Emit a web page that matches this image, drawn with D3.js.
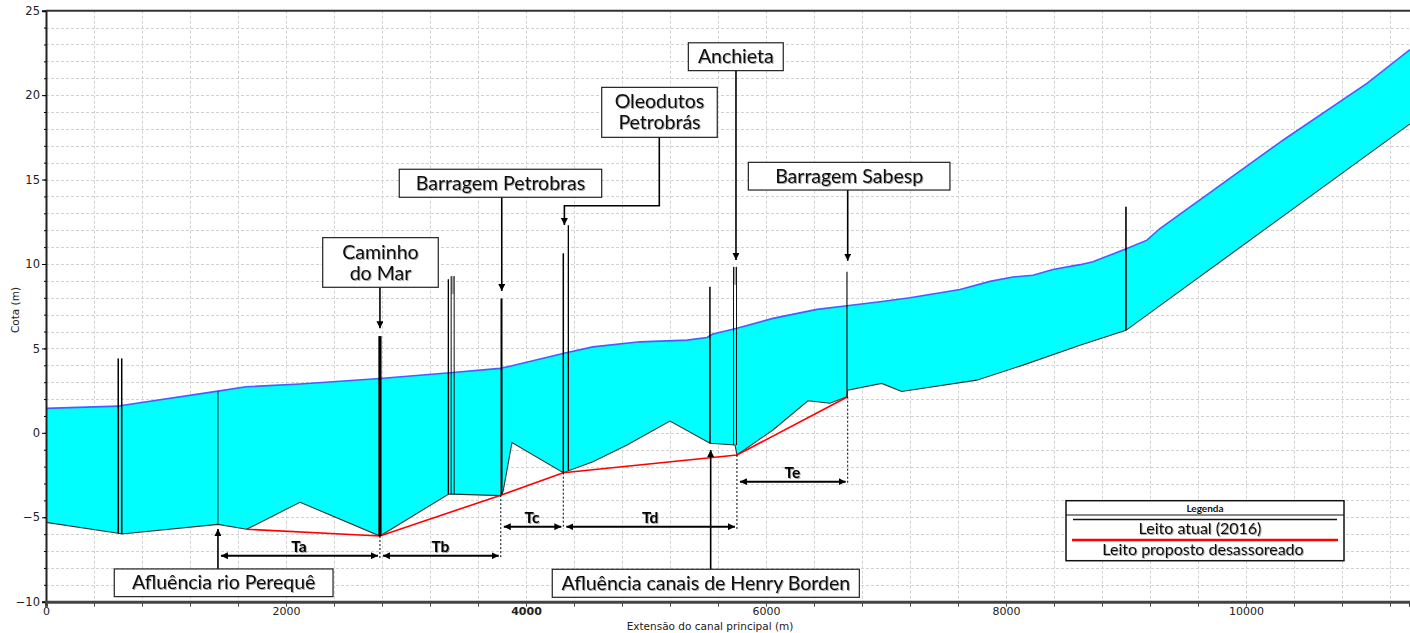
<!DOCTYPE html>
<html>
<head>
<meta charset="utf-8">
<script src="https://cdn.jsdelivr.net/npm/d3@7"></script>
<style>
  html, body { margin: 0; padding: 0; background: #fff; }
  svg { display: block; }
</style>
</head>
<body>
<svg id="chart" width="1410" height="633"></svg>
<script>
// Perfil longitudinal do canal principal: nível d'água, leito atual e leito proposto

// Nível d'água (linha azul)
const waterDist = [0, 602, 631, 1433, 1667, 2117, 2783, 3367, 3783, 3883, 4308, 4558, 4950, 5342, 5508, 5558, 5758, 6058, 6425, 6675, 6950, 7200, 7617, 7867, 8058, 8225, 8392, 8617, 8725, 9008, 9175, 9283, 10308, 11008, 11367];
const waterLevel = [1.45, 1.58, 1.62, 2.47, 2.73, 2.89, 3.22, 3.56, 3.82, 3.97, 4.70, 5.09, 5.39, 5.49, 5.65, 5.85, 6.19, 6.78, 7.31, 7.53, 7.76, 8.00, 8.49, 8.97, 9.23, 9.33, 9.67, 9.96, 10.13, 10.92, 11.41, 12.10, 17.33, 20.69, 22.70];

// Leito atual (2016)
const bedDist = [0, 602, 631, 1433, 1672, 2117, 2783, 3353, 3389, 3790, 3810, 3883, 4311, 4558, 4842, 5200, 5533, 5742, 5758, 6058, 6350, 6533, 6675, 6681, 6964, 7131, 7756, 8142, 8617, 9000, 11367];
const bedLevel = [-5.30, -5.95, -5.99, -5.42, -5.71, -4.11, -6.11, -3.64, -3.63, -3.72, -3.45, -0.58, -2.36, -1.71, -0.72, 0.70, -0.62, -0.72, -1.31, 0.17, 1.90, 1.75, 2.14, 2.53, 2.93, 2.45, 3.12, 4.01, 5.19, 6.07, 18.30];

// Leito proposto desassoreado
const proposedDist = [1672, 2783, 3790, 4311, 5758, 6681];
const proposedLevel = [-5.71, -6.11, -3.69, -2.36, -1.31, 2.14];

// Estruturas transversais (pontes, barragens, dutos)
const structDist = [602, 631, 1433, 2783, 3353, 3389, 3796, 4311, 4353, 5533, 5742, 6675, 9000];
const structTop = [4.41, 4.41, 2.47, 5.73, 9.09, 9.28, 7.96, 10.63, 12.29, 8.65, 9.83, 9.54, 13.39];

// Trechos de desassoreamento
const reachLabels = ["Ta", "Tb", "Tc", "Td", "Te"];
const reachStart = [1433, 2783, 3790, 4311, 5758];
const reachEnd = [2783, 3790, 4311, 5758, 6681];

// Eixos
const yTicks = [-10, -5, 0, 5, 10, 15, 20, 25];
const xLabelTicks = [0, 2000, 4000, 6000, 8000, 10000];

// ---------------------------------------------------------------
const svg = d3.select("#chart");
const W = 1410, H = 633;
const plotLeft = 46, plotTop = 10.7, plotBottom = 601.7;

const x = d3.scaleLinear().domain([0, 11367]).range([plotLeft, W]);
const y = d3.scaleLinear().domain([-10, 25]).range([plotBottom, plotTop]);

const bedAt = d3.scaleLinear().domain(bedDist).range(bedLevel);
const proposedAt = d3.scaleLinear().domain(proposedDist).range(proposedLevel);

const defs = svg.append("defs");
defs.append("clipPath").attr("id", "plotclip")
  .append("rect").attr("x", plotLeft).attr("y", plotTop).attr("width", W - plotLeft).attr("height", plotBottom - plotTop);
defs.append("marker")
  .attr("id", "arrow").attr("viewBox", "0 0 10 10").attr("refX", 10).attr("refY", 5)
  .attr("markerWidth", 7).attr("markerHeight", 7).attr("markerUnits", "userSpaceOnUse")
  .attr("orient", "auto-start-reverse")
  .append("path").attr("d", "M0,0 L10,5 L0,10 Z").attr("fill", "#000");
const shadow = defs.append("filter").attr("id", "tshadow")
  .attr("x", "-10%").attr("y", "-30%").attr("width", "130%").attr("height", "160%");
shadow.append("feDropShadow").attr("dx", 1).attr("dy", 1).attr("stdDeviation", 0.7)
  .attr("flood-color", "#000").attr("flood-opacity", 0.35);

// Grade
const grid = svg.append("g").attr("stroke", "#d2d2d2").attr("stroke-width", 1).attr("stroke-dasharray", "3,2");
grid.selectAll("line.v").data(d3.range(400, 11367, 400)).join("line").attr("class", "v")
  .attr("x1", d => Math.round(x(d)) + 0.5).attr("x2", d => Math.round(x(d)) + 0.5)
  .attr("y1", plotTop).attr("y2", plotBottom);
grid.selectAll("line.h").data(d3.range(-9, 25, 1)).join("line").attr("class", "h")
  .attr("x1", plotLeft).attr("x2", W)
  .attr("y1", d => Math.round(y(d)) + 0.5).attr("y2", d => Math.round(y(d)) + 0.5);

const plot = svg.append("g").attr("clip-path", "url(#plotclip)");

// Área molhada
const waterPts = waterDist.map((d, i) => [d, waterLevel[i]]);
const bedPts = bedDist.map((d, i) => [d, bedLevel[i]]);
const line = d3.line().x(d => x(d[0])).y(d => y(d[1]));
plot.append("path")
  .attr("d", line(waterPts.concat(bedPts.slice().reverse())) + "Z")
  .attr("fill", "#00ffff");
plot.append("path").attr("d", line(bedPts)).attr("fill", "none")
  .attr("stroke", "#333").attr("stroke-width", 1.1);
plot.append("path").attr("d", line(waterPts)).attr("fill", "none")
  .attr("stroke", "#4a5cff").attr("stroke-width", 1.6);

// Leito proposto
plot.append("path").attr("d", line(proposedDist.map((d, i) => [d, proposedLevel[i]])))
  .attr("fill", "none").attr("stroke", "#ff0000").attr("stroke-width", 1.6);

// Estruturas
const structWeight = [1.5, 1.5, 1, 3.2, 1.3, 1.3, 2, 1.5, 1.3, 1.5, 1.3, 1.1, 1.6];
const structs = plot.append("g");
structDist.forEach((d, i) => {
  const xs = x(d), yt = y(structTop[i]), yb = y(bedAt(d));
  if (i === 5 || i === 10) {
    // estrutura dupla com tabuleiro cinza
    structs.append("rect").attr("x", xs - 1.5).attr("y", yt).attr("width", 3).attr("height", 18)
      .attr("fill", "#aaa");
    [-1.5, 1.5].forEach(o => structs.append("line")
      .attr("x1", xs + o).attr("x2", xs + o).attr("y1", yt).attr("y2", yb)
      .attr("stroke", "#111").attr("stroke-width", 1));
  } else {
    structs.append("line").attr("x1", xs).attr("x2", xs).attr("y1", yt).attr("y2", yb)
      .attr("stroke", i === 2 ? "#333" : "#000").attr("stroke-width", structWeight[i]);
  }
});

// Linhas de chamada dos trechos
const ann = svg.append("g");
const extBottom = [-7.45, -7.45, -5.7, -5.7, -3.0];
reachEnd.forEach((d, i) => {
  ann.append("line").attr("x1", x(d)).attr("x2", x(d))
    .attr("y1", y(proposedAt(d))).attr("y2", y(extBottom[i]))
    .attr("stroke", "#000").attr("stroke-width", 1).attr("stroke-dasharray", "2,2");
});
const reachY = [-7.28, -7.28, -5.56, -5.56, -2.89];
reachLabels.forEach((lab, i) => {
  const x0 = x(reachStart[i]) + 3, x1 = x(reachEnd[i]) - 2;
  const yy = y(reachY[i]);
  ann.append("line").attr("x1", x0).attr("x2", x1).attr("y1", yy).attr("y2", yy)
    .attr("stroke", "#000").attr("stroke-width", 2)
    .attr("marker-start", "url(#arrow)").attr("marker-end", "url(#arrow)");
  ann.append("text").attr("x", (x(reachStart[i]) + x(reachEnd[i])) / 2).attr("y", yy - 3.5)
    .attr("text-anchor", "middle").attr("font-family", "Lato, 'Open Sans', sans-serif")
    .attr("font-weight", "bold").attr("font-size", 15.5).attr("fill", "#000")
    .attr("filter", "url(#tshadow)").text(lab);
});

// Caixas de identificação
const callouts = [
  { lines: ["Caminho", "do Mar"], x0: 2306, x1: 3269, yTop: 11.56, yBot: 8.62, path: [[2783, 8.62], [2783, 6.19]] },
  { lines: ["Barragem Petrobras"], x0: 2944, x1: 4631, yTop: 15.61, yBot: 13.95, path: [[3798, 13.95], [3798, 8.40]] },
  { lines: ["Oleodutos", "Petrobrás"], x0: 4631, x1: 5594, yTop: 20.46, yBot: 17.50, path: [[5111, 17.50], [5111, 13.45], [4320, 13.45], [4320, 12.31]] },
  { lines: ["Anchieta"], x0: 5353, x1: 6144, yTop: 23.10, yBot: 21.45, path: [[5750, 21.45], [5750, 10.24]] },
  { lines: ["Barragem Sabesp"], x0: 5853, x1: 7533, yTop: 16.02, yBot: 14.38, path: [[6681, 14.38], [6681, 10.19]] },
  { lines: ["Afluência rio Perequê"], x0: 569, x1: 2392, yTop: -8.06, yBot: -9.70, path: [[1433, -8.06], [1433, -5.69]] },
  { lines: ["Afluência canais de Henry Borden"], x0: 4219, x1: 6778, yTop: -8.08, yBot: -9.74, path: [[5539, -8.08], [5539, -1.02]] }
];
callouts.forEach(c => {
  ann.append("path").attr("d", line(c.path)).attr("fill", "none")
    .attr("stroke", "#000").attr("stroke-width", 1.6).attr("marker-end", "url(#arrow)");
  const bx = x(c.x0), bw = x(c.x1) - x(c.x0), by = y(c.yTop), bh = y(c.yBot) - y(c.yTop);
  ann.append("rect").attr("x", bx).attr("y", by).attr("width", bw).attr("height", bh)
    .attr("fill", "#fff").attr("stroke", "#222").attr("stroke-width", 1.2);
  const cy = by + bh / 2, L = 21, n = c.lines.length;
  c.lines.forEach((t, k) => {
    ann.append("text").attr("x", bx + bw / 2).attr("y", cy - (n - 1) * L / 2 + k * L + 6.6)
      .attr("text-anchor", "middle").attr("font-family", "Lato, 'Open Sans', sans-serif")
      .attr("font-size", 19.5).attr("fill", "#111").attr("filter", "url(#tshadow)").text(t);
  });
});

// Eixos
const axisFont = "'DejaVu Sans', Verdana, sans-serif";
const gy = svg.append("g").attr("transform", `translate(${plotLeft},0)`)
  .call(d3.axisLeft(y).tickValues(yTicks).tickSize(4).tickPadding(2));
svg.append("g").attr("transform", `translate(${plotLeft},0)`)
  .call(d3.axisLeft(y).tickValues(d3.range(-10, 26, 1)).tickSize(2).tickFormat(""))
  .call(g => g.select(".domain").remove());
gy.select(".domain").attr("stroke", "#222").attr("stroke-width", 2);
gy.selectAll("text").attr("font-family", axisFont).attr("font-size", 11.5).attr("fill", "#222");

const gx = svg.append("g").attr("transform", `translate(0,${plotBottom})`)
  .call(d3.axisBottom(x).tickValues(d3.range(0, 11367, 400)).tickSize(5).tickPadding(1)
    .tickFormat(d => xLabelTicks.includes(d) ? String(d) : ""));
gx.select(".domain").attr("stroke", "#444").attr("stroke-width", 3);
gx.selectAll(".tick line").attr("stroke", "#444");
gx.selectAll("text").attr("font-family", axisFont).attr("font-size", 11).attr("fill", "#222")
  .attr("font-weight", d => d === 4000 ? "bold" : "normal");

// Moldura superior
svg.append("line").attr("x1", plotLeft).attr("x2", W).attr("y1", plotTop).attr("y2", plotTop)
  .attr("stroke", "#333").attr("stroke-width", 2);

// Títulos dos eixos
svg.append("text").attr("transform", "translate(19,310) rotate(-90)")
  .attr("text-anchor", "middle").attr("font-family", axisFont).attr("font-size", 10.5)
  .attr("fill", "#222").text("Cota (m)");
svg.append("text").attr("x", 710).attr("y", 630)
  .attr("text-anchor", "middle").attr("font-family", axisFont).attr("font-size", 10.5)
  .attr("fill", "#222").text("Extensão do canal principal (m)");

// Legenda
const lg = svg.append("g");
lg.append("rect").attr("x", 1066).attr("y", 500.7).attr("width", 278).attr("height", 60)
  .attr("fill", "#fff").attr("stroke", "#111").attr("stroke-width", 1.5);
lg.append("line").attr("x1", 1066).attr("x2", 1344).attr("y1", 515).attr("y2", 515)
  .attr("stroke", "#111").attr("stroke-width", 1);
lg.append("text").attr("x", 1205).attr("y", 512).attr("text-anchor", "middle")
  .attr("font-family", "Lato, sans-serif").attr("font-weight", "bold").attr("font-size", 10)
  .attr("fill", "#111").text("Legenda");
lg.append("line").attr("x1", 1073).attr("x2", 1337).attr("y1", 519.5).attr("y2", 519.5)
  .attr("stroke", "#111").attr("stroke-width", 1.3);
lg.append("text").attr("x", 1200).attr("y", 534).attr("text-anchor", "middle")
  .attr("font-family", "Lato, sans-serif").attr("font-size", 16).attr("fill", "#111")
  .attr("filter", "url(#tshadow)").text("Leito atual (2016)");
lg.append("line").attr("x1", 1072).attr("x2", 1338).attr("y1", 540).attr("y2", 540)
  .attr("stroke", "#ff0000").attr("stroke-width", 2.5);
lg.append("text").attr("x", 1203).attr("y", 555).attr("text-anchor", "middle")
  .attr("font-family", "Lato, sans-serif").attr("font-size", 16).attr("fill", "#111")
  .attr("filter", "url(#tshadow)").text("Leito proposto desassoreado");
</script>
</body>
</html>
